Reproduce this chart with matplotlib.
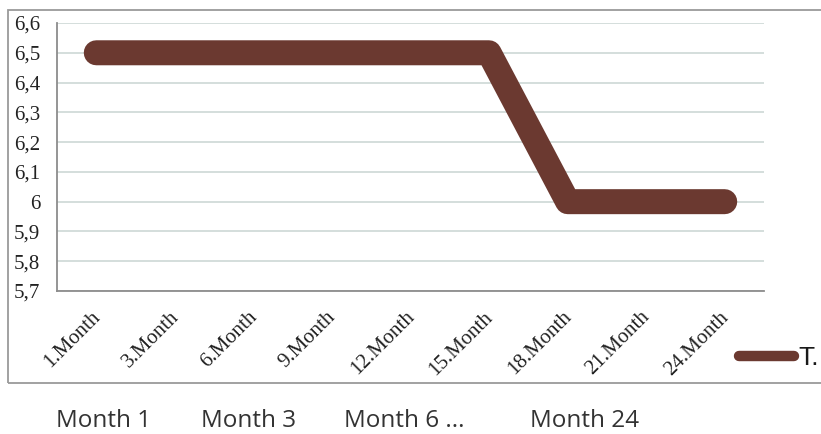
import matplotlib.pyplot as plt
from matplotlib.patches import Rectangle

months = ["1.Month", "3.Month", "6.Month", "9.Month", "12.Month",
          "15.Month", "18.Month", "21.Month", "24.Month"]
values = [6.5, 6.5, 6.5, 6.5, 6.5, 6.5, 6.0, 6.0, 6.0]
series_name = "T."
y_ticks = [5.7, 5.8, 5.9, 6.0, 6.1, 6.2, 6.3, 6.4, 6.5, 6.6]
captions = ["Month 1", "Month 3", "Month 6 ...", "Month 24"]
caption_x = [56, 201, 344, 530]

W, H = 821, 434
fig = plt.figure(figsize=(W / 100, H / 100), dpi=100)
fig.patch.set_facecolor("white")

# chart box around the embedded chart
fig.patches.append(Rectangle((8 / W, 1 - 383 / H), 820 / W, 373 / H,
                             transform=fig.transFigure, fill=False,
                             edgecolor="#9a9a9a", linewidth=1.3))

ax = fig.add_axes([57 / W, 1 - 291 / H, 707 / W, 268 / H])
x = list(range(len(months)))
ax.plot(x, values, color="#6b3930", linewidth=18,
        solid_capstyle="round", solid_joinstyle="round",
        label=series_name, zorder=3)

ax.set_xlim(-0.5, len(months) - 0.5)
ax.set_ylim(5.7, 6.6)
ax.set_yticks(y_ticks)
ax.set_yticklabels([("%g" % v).replace(".", ",") for v in y_ticks],
                   family="Liberation Serif", fontsize=15, color="#222")

# category labels drawn by hand so they can sit a little left of the tick
ax.set_xticks(x)
ax.set_xticklabels([])
for i, m in enumerate(months):
    ax.annotate(m, xy=(i, 0), xycoords=ax.get_xaxis_transform(),
                xytext=(-4, -12), textcoords="offset points",
                rotation=45, ha="right", va="top", rotation_mode="anchor",
                family="Liberation Serif", fontsize=15, color="#222",
                annotation_clip=False)

ax.tick_params(axis="both", length=0)
ax.tick_params(axis="y", pad=12)

ax.grid(axis="y", color="#cdd8d5", linewidth=1.2)
ax.set_axisbelow(True)
for side in ["top", "right"]:
    ax.spines[side].set_visible(False)
for side in ["left", "bottom"]:
    ax.spines[side].set_color("#8c8c8c")
    ax.spines[side].set_linewidth(1.3)

leg = ax.legend(loc="center left", bbox_to_anchor=(739 / W, 1 - 358 / H),
                bbox_transform=fig.transFigure, frameon=False,
                handlelength=2.1, handletextpad=0.15, borderpad=0,
                borderaxespad=0,
                prop={"family": "Liberation Sans", "size": 19})
for line in leg.get_lines():
    line.set_linewidth(7.5)
for t in leg.get_texts():
    t.set_color("#1a1a1a")

for label, cx in zip(captions, caption_x):
    fig.text(cx / W, 1 - 427 / H, label, ha="left", va="baseline",
             family="Open Sans", fontsize=17.5, color="#333")

fig.savefig("out.png", dpi=100)
